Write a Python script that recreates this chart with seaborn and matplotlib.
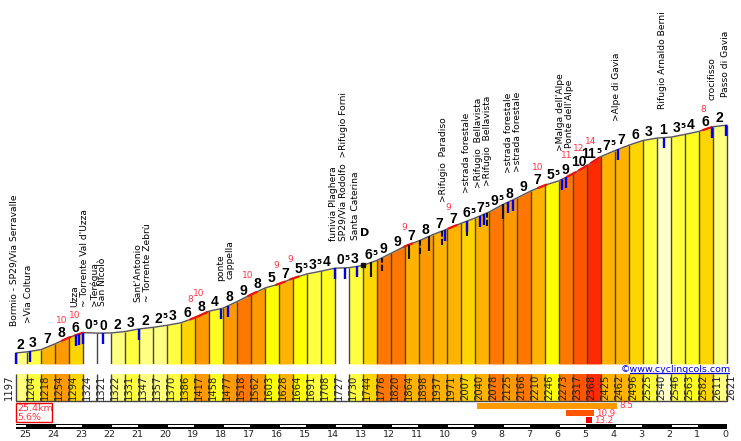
import numpy as np
import pandas as pd
import matplotlib.pyplot as plt
import seaborn as sns

# distance to the summit (km) and elevation (m) at each marker
km_marks = [25.4, 25, 24.5, 24, 23.5, 23, 22.5, 22, 21.5, 21, 20.5, 20, 19.5, 19, 18.5, 18, 17.5,
            17, 16.5, 16, 15.5, 15, 14.5, 14, 13.5, 13, 12.5, 12, 11.5, 11, 10.5, 10, 9.5, 9, 8.5,
            8, 7.5, 7, 6.5, 6, 5.5, 5, 4.5, 4, 3.5, 3, 2.5, 2, 1.5, 1, 0.5, 0]
elevations = [1197, 1204, 1218, 1254, 1294, 1324, 1321, 1322, 1331, 1347, 1357, 1370, 1386, 1417,
              1458, 1477, 1518, 1562, 1603, 1628, 1664, 1691, 1708, 1727, 1730, 1744, 1776, 1820,
              1864, 1898, 1937, 1971, 2007, 2040, 2078, 2125, 2166, 2210, 2246, 2273, 2317, 2368,
              2425, 2462, 2496, 2525, 2540, 2546, 2563, 2582, 2611, 2621]
grades = [2, 3, 7, 8, 6, 0.5, 0, 2, 3, 2, 2.5, 3, 6, 8, 4, 8, 9, 8, 5, 7, 5.5, 3.5, 4, 0.5, 3, 6.5,
          9, 9, 7, 8, 7, 7, 6.5, 7.5, 9.5, 8, 9, 7, 5.5, 9, 10, 11.5, 7.5, 7, 6, 3, 1, 3.5, 4, 6, 2]

# steepest stretches: km, elevation of the small red number, value
peak_km = [23.75, 23.29, 19.16, 18.86, 17.1, 16.1, 15.6, 11.54, 9.96, 6.75, 5.71, 5.29, 4.86, 0.86]
peak_ele = [1397, 1430, 1528, 1566, 1684, 1741, 1784, 1984, 2103, 2359, 2428, 2472, 2516, 2716]
peak_vals = [10, 10, 8, 10, 10, 9, 9, 9, 9, 10, 11, 12, 14, 8]

# places on the way up
place_names = ["Bormio - SP29/Via Serravalle", ">Via Coltura", "Uzza", "~ Torrente Val d'Uzza",
               ">Terégua", "San Nicolò", "Sant'Antonio", "~ Torrente Zebrù", "ponte", "cappella",
               "funivia Plaghera", "SP29/Via Rodolfo  >Rifugio Forni", "Santa Caterina",
               ">Rifugio  Paradiso", ">strada forestale", ">Rifugio  Bellavista",
               ">Rifugio  Bellavista", ">strada forestale", ">strada forestale",
               ">Malga dell'Alpe", "Ponte dell'Alpe", ">Alpe di Gavia",
               "Rifugio Arnaldo Berni", "crocifisso", "Passo di Gavia"]
place_km = [25.46, 24.93, 23.29, 22.96, 22.61, 22.29, 21.04, 20.71, 18.07, 17.75, 14.04, 13.68,
            13.28, 10.11, 9.29, 8.86, 8.54, 7.82, 7.5, 5.93, 5.61, 3.93, 2.29, 0.54, 0.07]
place_ele = [1366, 1385, 1485, 1485, 1491, 1491, 1516, 1516, 1647, 1660, 1897, 1897, 1903, 2141,
             2197, 2228, 2241, 2322, 2328, 2459, 2478, 2647, 2722, 2778, 2797]

# markers hanging under the profile
blue_km = [25.39, 24.89, 23.25, 23.14, 23.0, 22.29, 21.0, 18.07, 17.82, 14.0, 13.64, 13.21, 10.07,
           9.29, 8.82, 8.68, 7.82, 7.64, 5.89, 5.75, 3.89, 2.25, 0.54, 0.04]
black_km = [12.71, 11.36, 10.64, 9.29, 8.0]
dashed_km = [12.32, 10.96, 10.18, 8.57]

# average gradient bars: start km, end km, value
avg_start = [8.93, 5.75, 5.04]
avg_end = [3.93, 4.75, 4.82]
avg_vals = [8.5, 10.9, 13.2]
avg_colors = ["#FF9900", "#FF5500", "#EE0000"]

grade_colors = {0: "#FFFFFF", 0.5: "#FFFFFF", 1: "#FFFFCC", 2: "#FFFF80", 2.5: "#FFFF80",
                3: "#FFFF40", 3.5: "#FFFF40", 4: "#FFFF20", 5: "#FFFF00", 5.5: "#FFFF00",
                6: "#FFD500", 6.5: "#FFD500", 7: "#FFB300", 7.5: "#FFB300", 8: "#FF9900",
                9: "#FF7700", 9.5: "#FF7700", 10: "#FF5500", 11.5: "#FF2B00"}

W, H = 741, 441
px_per_km = 28.0
px_per_m = 0.16
BASE = 1128
LINE = "#444444"
RED = "#FF3344"


def px_axes(top, bottom):
    # axes in figure pixels, all with the same km scale
    a = fig.add_axes([0, 1 - bottom / H, 1, (bottom - top) / H])
    a.set_xlim(727 / px_per_km, (727 - W) / px_per_km)
    a.axis("off")
    return a


def ele_at(k):
    return np.interp(-np.array(k), -km, ele)


sns.set_theme(style="white")
plt.rcParams["font.family"] = ["DejaVu Sans"]

fig = plt.figure(figsize=(W / 100, H / 100), dpi=100)
km = np.array(km_marks)
ele = np.array(elevations)
df = pd.DataFrame({"km": km, "elevation": ele})
colors = [grade_colors[g] for g in grades]

# profile
ax = px_axes(0, 364)
ax.set_ylim(BASE, BASE + 364 / px_per_m)
for i, c in enumerate(colors):
    ax.fill_between(km[i:i + 2], ele[i:i + 2], BASE, color=c, lw=0, zorder=1)
ax.vlines(km, BASE, ele, color=LINE, lw=1.0, zorder=2)
sns.lineplot(data=df, x="km", y="elevation", ax=ax, color="#555555", lw=1.0, zorder=3,
             sort=False, errorbar=None)
ax.axis("off")
ax.set_xlim(727 / px_per_km, (727 - W) / px_per_km)

# red stretches on the profile and their numbers
for k, e, v in zip(peak_km, peak_ele, peak_vals):
    seg = np.array([k, k - 0.3])
    ax.plot(seg, ele_at(seg), color="#EE1111", lw=1.6, zorder=4)
    ax.text(k, e, str(v), color=RED, fontsize=6.5, ha="center", va="center", zorder=6)

# hanging markers
top = ele_at(black_km)
ax.vlines(black_km, top - 90, top, color="#111111", lw=1.5, zorder=4)
top = ele_at(dashed_km)
ax.vlines(dashed_km, top - 85, top, color="#111111", lw=1.5, linestyles=(0, (3, 1)), zorder=4)
top = ele_at(blue_km)
ax.vlines(blue_km, top - 68, top, color="#0000EE", lw=1.7, zorder=5)
ax.plot([13.0], [ele_at(13.0) + 4], marker="s", ms=3.4, color="#111111", zorder=5)

# gradient numbers above each stretch
for i, g in enumerate(grades):
    mid_x = (km[i] + km[i + 1]) / 2
    mid_y = (ele[i] + ele[i + 1]) / 2
    whole = int(g)
    if g == whole:
        ax.annotate(str(whole), (mid_x, mid_y), xytext=(-0.7, 5.4), textcoords="offset points",
                    ha="center", va="center", fontsize=10, fontweight="bold", color="#000000",
                    family="Liberation Sans", zorder=7)
    else:
        ax.annotate(str(whole), (mid_x, mid_y), xytext=(1.5, 5.4), textcoords="offset points",
                    ha="right", va="center", fontsize=10, fontweight="bold", color="#000000",
                    family="Liberation Sans", zorder=7)
        ax.annotate("5", (mid_x, mid_y), xytext=(1.8, 7.3), textcoords="offset points",
                    ha="left", va="center", fontsize=5.2, fontweight="bold", color="#000000", zorder=7)

# place names
for name, k, e in zip(place_names, place_km, place_ele):
    ax.text(k, e, name, rotation=90, ha="center", va="bottom", fontsize=6.6, color="#000000", zorder=6)
ax.text(12.95, 1944, "D", fontsize=8, fontweight="bold", ha="center", va="center", color="#000000", zorder=7)

# elevation strip
strip = px_axes(374, 401)
strip.set_ylim(0, 1)
strip.bar(km[:-1], 1, width=km[1:] - km[:-1], align="edge", color=colors, lw=0)
strip.vlines(km, 0, 1, color=LINE, lw=1.0)
strip.plot(km[[0, -1]], [0, 0], color=LINE, lw=1.0, clip_on=False)
for i, (k, e) in enumerate(zip(km, ele)):
    x = k - 0.14 if i else k + 0.26
    strip.text(x, 0.5, str(e), rotation=90, ha="center", va="center", fontsize=7.2,
               color="#222222", clip_on=False)

# website credit
fig.text(676 / W, 1 - 369 / H, "©www.cyclingcols.com", color="#0000DD", fontsize=6.8,
         ha="center", va="center")
strip.plot([3.46, -0.07], [1.02, 1.02], color="#0000DD", lw=0.9, clip_on=False, zorder=5)

# average gradient bars, overall box, km scale
low = px_axes(402, 441)
low.set_ylim(441, 402)
tops = [403, 410, 417]
text_y = [405.5, 413, 420.5]
for s, e, v, c, t, y in zip(avg_start, avg_end, avg_vals, avg_colors, tops, text_y):
    low.barh(t + 3, e - s, left=s, height=6, color=c, lw=0)
    low.text(e - 0.08, y, str(v), color=RED, fontsize=6.3, va="center", ha="left")

low.add_patch(plt.Rectangle((25.4, 403), -1.3, 19, fill=False, ec="#EE0000", lw=1))
low.text(25.36, 408, "25.4km", color=RED, fontsize=6.8, va="center", ha="left")
low.text(25.36, 417, "5.6%", color=RED, fontsize=6.8, va="center", ha="left")

km_ticks = list(range(25, -1, -1))
low.barh(426.2, -25.4, left=25.4, height=4.6, color="#000000", lw=0)
for k in km_ticks:
    if k % 2 == 0 and k > 0:
        low.barh(426.2, -0.96, left=k - 0.02, height=2.2, color="#FFFFFF", lw=0)
    low.text(k + 0.07, 434.5, str(k), fontsize=6.8, ha="center", va="center", color="#222222")
low.barh(426.2, -0.36, left=25.38, height=2.2, color="#FFFFFF", lw=0)

fig.savefig("out.png", dpi=100, facecolor="white")
